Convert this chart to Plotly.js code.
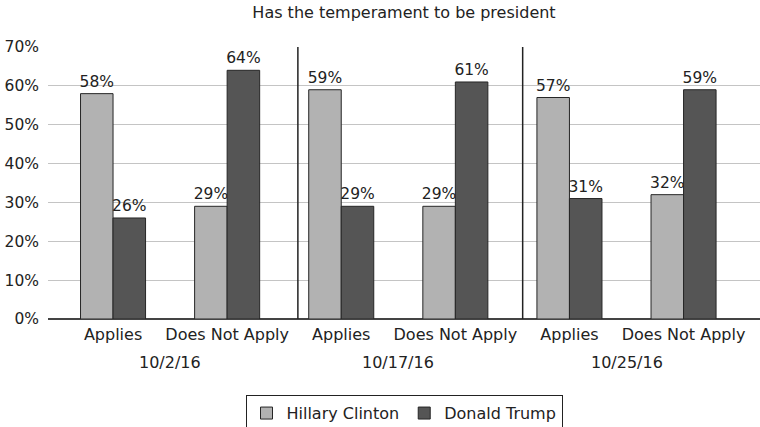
<!DOCTYPE html>
<html>
<head>
<meta charset="utf-8">
<script src="https://cdn.plot.ly/plotly-3.0.1.min.js"></script>
<style>
  html, body { margin: 0; padding: 0; background: #fff; }
  #chart { width: 760px; height: 427px; }
</style>
</head>
<body>
<div id="chart"></div>
<script>
// Survey dates, each with an "Applies" / "Does Not Apply" pair
const dates = ["10/2/16", "10/17/16", "10/25/16"];
const responses = ["Applies", "Does Not Apply"];
const categories = ["Applies", "Does Not Apply", "Applies", "Does Not Apply", "Applies", "Does Not Apply"];

// Percent of respondents per candidate
const clinton = [58, 29, 59, 29, 57, 32];
const trump = [26, 64, 29, 61, 31, 59];

const seriesNames = ["Hillary Clinton", "Donald Trump"];

const FONT = "DejaVu Sans, Verdana, sans-serif";
const xIdx = categories.map((_, i) => i);

function barTrace(name, values, color) {
  return {
    type: "bar",
    name: name,
    x: xIdx,
    y: values,
    marker: { color: color, line: { color: "#262626", width: 1 } },
    text: values.map(v => v + "%"),
    textposition: "outside",
    constraintext: "none",
    textfont: { family: FONT, size: 15.5, color: "#222" },
    cliponaxis: false,
    hoverinfo: "skip"
  };
}

const traces = [
  barTrace(seriesNames[0], clinton, "#b2b2b2"),
  barTrace(seriesNames[1], trump, "#555555")
];

// Date labels centred under each pair of categories
const dateAnnotations = dates.map((d, g) => ({
  text: d,
  x: g * responses.length + (responses.length - 1) / 2,
  xref: "x",
  y: -0.16,
  yref: "paper",
  yanchor: "middle",
  showarrow: false,
  font: { family: FONT, size: 16, color: "#222" }
}));

// Vertical dividers between the survey dates
const dividers = [1.62, 3.59].map(x => ({
  type: "line",
  xref: "x", yref: "paper",
  x0: x, x1: x, y0: 0, y1: 1,
  line: { color: "#222", width: 1.5 }
}));

const layout = {
  width: 760,
  height: 427,
  margin: { l: 48, r: 0, t: 47, b: 108, autoexpand: false },
  paper_bgcolor: "#fff",
  plot_bgcolor: "#fff",
  font: { family: FONT, size: 16, color: "#222" },
  title: {
    text: "Has the temperament to be president",
    font: { family: FONT, size: 16, color: "#222" },
    x: 0.5, xref: "paper",
    y: 0.97, yref: "container", yanchor: "middle"
  },
  barmode: "group",
  bargap: 0.43,
  bargroupgap: 0,
  xaxis: {
    range: [-0.57, 5.67],
    tickmode: "array",
    tickvals: xIdx,
    ticktext: categories,
    ticks: "",
    ticklabelstandoff: 4,
    automargin: false,
    showgrid: false,
    zeroline: false,
    showline: false,
    tickfont: { family: FONT, size: 16, color: "#222" }
  },
  yaxis: {
    range: [0, 70],
    dtick: 10,
    ticksuffix: "%",
    automargin: false,
    showgrid: true,
    gridcolor: "#c4c4c4",
    gridwidth: 1,
    zeroline: true,
    zerolinecolor: "#444",
    zerolinewidth: 1.5,
    showline: false,
    ticks: "",
    ticklabelstandoff: 8,
    tickfont: { family: FONT, size: 15.5, color: "#222" }
  },
  showlegend: true,
  legend: {
    orientation: "h",
    x: 0.5, xanchor: "center", xref: "paper",
    y: -0.28, yanchor: "top",
    bordercolor: "#222",
    borderwidth: 1,
    font: { family: FONT, size: 16, color: "#222" },
    itemwidth: 30,
    traceorder: "normal"
  },
  annotations: dateAnnotations,
  shapes: dividers
};

Plotly.newPlot("chart", traces, layout, { displayModeBar: false, staticPlot: true });
</script>
</body>
</html>
